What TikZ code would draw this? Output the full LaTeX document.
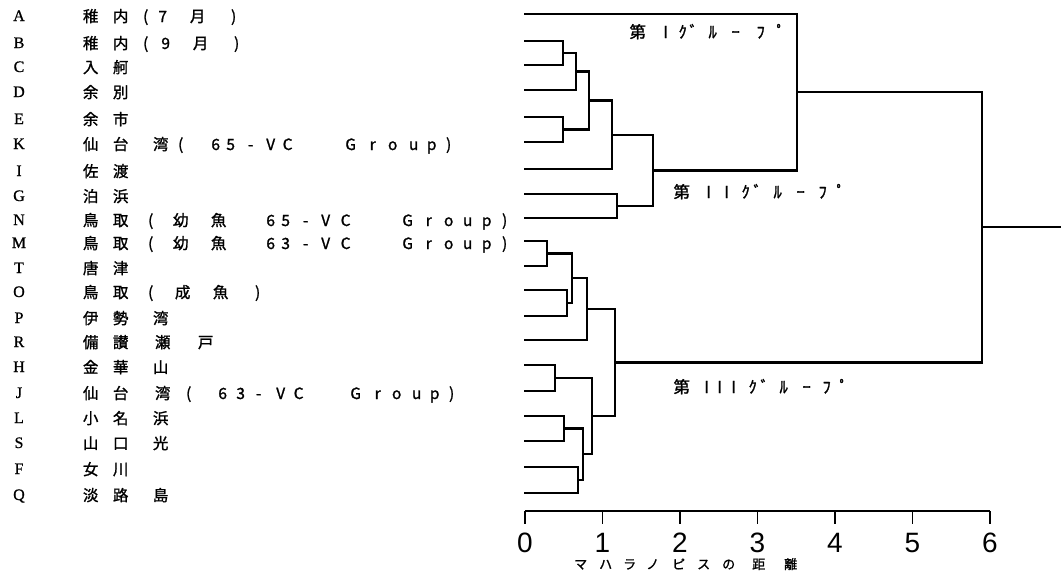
\documentclass[tikz,border=0pt]{standalone}
\usepackage{fontspec}
\newfontfamily\jp{Noto Sans CJK JP}[FakeBold=1.3]
\newfontfamily\latn{Liberation Serif}[FakeBold=0.8]
\newfontfamily\nums{Liberation Sans}
% place #2 centred at #1 pt from the start of the line, taking no width
\newcommand\ch[2]{\makebox[0pt][l]{\hspace*{#1pt}\makebox[0pt]{#2}}}
\tikzset{
  link/.style={line width=2.2pt},
  axisline/.style={line width=2pt},
  tickline/.style={line width=1.4pt},
  code/.style={anchor=base, inner sep=0pt, font=\latn\fontsize{16}{16}\selectfont},
  place/.style={anchor=base west, inner sep=0pt, font=\jp\fontsize{15.5}{15.5}\selectfont},
  grp/.style={anchor=base west, inner sep=0pt, font=\jp\fontsize{16.5}{16.5}\selectfont},
  num/.style={anchor=base, inner sep=0pt, font=\nums\fontsize{28}{28}\selectfont},
  axtitle/.style={anchor=base west, inner sep=0pt, font=\jp\fontsize{13}{13}\selectfont},
}
\begin{document}
\begin{tikzpicture}[x=1pt,y=-1pt]
\useasboundingbox (0,0) rectangle (1061,587);

% ---- station codes and names ----
\node[code] (kA) at (19,21) {A};
\node[place] (tA) at (90,22) {\ch{0}{稚}\ch{30}{内}\ch{55}{(}\ch{72}{7}\ch{107}{月}\ch{143}{)}};
\node[code] (kB) at (19,48) {B};
\node[place] (tB) at (90,49) {\ch{0}{稚}\ch{30}{内}\ch{55}{(}\ch{75}{9}\ch{110}{月}\ch{146}{)}};
\node[code] (kC) at (19,72) {C};
\node[place] (tC) at (90,73) {\ch{0}{入}\ch{30}{舸}};
\node[code] (kD) at (19,97) {D};
\node[place] (tD) at (90,98) {\ch{0}{余}\ch{30}{別}};
\node[code] (kE) at (19,124) {E};
\node[place] (tE) at (90,125) {\ch{0}{余}\ch{30}{市}};
\node[code] (kK) at (19,149) {K};
\node[place] (tK) at (90,150) {\ch{0}{仙}\ch{30}{台}\ch{70}{湾}\ch{90}{(}\ch{125}{6}\ch{140}{5}\ch{160}{-}\ch{180}{V}\ch{197}{C}\ch{260}{G}\ch{282}{r}\ch{302}{o}\ch{323}{u}\ch{341}{p}\ch{358}{)}};
\node[code] (kI) at (19,176) {I};
\node[place] (tI) at (90,177) {\ch{0}{佐}\ch{30}{渡}};
\node[code] (kG) at (19,201) {G};
\node[place] (tG) at (90,202) {\ch{0}{泊}\ch{30}{浜}};
\node[code] (kN) at (19,225) {N};
\node[place] (tN) at (90,226) {\ch{0}{鳥}\ch{30}{取}\ch{60}{(}\ch{90}{幼}\ch{128}{魚}\ch{180}{6}\ch{195}{5}\ch{215}{-}\ch{235}{V}\ch{255}{C}\ch{317}{G}\ch{338}{r}\ch{358}{o}\ch{377}{u}\ch{396}{p}\ch{414}{)}};
\node[code] (kM) at (19,248) {M};
\node[place] (tM) at (90,249) {\ch{0}{鳥}\ch{30}{取}\ch{60}{(}\ch{90}{幼}\ch{128}{魚}\ch{180}{6}\ch{195}{3}\ch{215}{-}\ch{235}{V}\ch{255}{C}\ch{317}{G}\ch{338}{r}\ch{358}{o}\ch{377}{u}\ch{396}{p}\ch{414}{)}};
\node[code] (kT) at (19,273) {T};
\node[place] (tT) at (90,274) {\ch{0}{唐}\ch{30}{津}};
\node[code] (kO) at (19,297) {O};
\node[place] (tO) at (90,298) {\ch{0}{鳥}\ch{30}{取}\ch{60}{(}\ch{92}{成}\ch{130}{魚}\ch{167}{)}};
\node[code] (kP) at (19,323) {P};
\node[place] (tP) at (90,324) {\ch{0}{伊}\ch{30}{勢}\ch{70}{湾}};
\node[code] (kR) at (19,347) {R};
\node[place] (tR) at (90,348) {\ch{0}{備}\ch{30}{讃}\ch{72}{瀬}\ch{115}{戸}};
\node[code] (kH) at (19,372) {H};
\node[place] (tH) at (90,373) {\ch{0}{金}\ch{30}{華}\ch{70}{山}};
\node[code] (kJ) at (19,398) {J};
\node[place] (tJ) at (90,399) {\ch{0}{仙}\ch{30}{台}\ch{72}{湾}\ch{98}{(}\ch{132}{6}\ch{150}{3}\ch{168}{-}\ch{190}{V}\ch{208}{C}\ch{265}{G}\ch{287}{r}\ch{306}{o}\ch{326}{u}\ch{344}{p}\ch{361}{)}};
\node[code] (kL) at (19,423) {L};
\node[place] (tL) at (90,424) {\ch{0}{小}\ch{30}{名}\ch{70}{浜}};
\node[code] (kS) at (19,448) {S};
\node[place] (tS) at (90,449) {\ch{0}{山}\ch{30}{口}\ch{70}{光}};
\node[code] (kF) at (19,474) {F};
\node[place] (tF) at (90,475) {\ch{0}{女}\ch{30}{川}};
\node[code] (kQ) at (19,500) {Q};
\node[place] (tQ) at (90,501) {\ch{0}{淡}\ch{30}{路}\ch{70}{島}};

% ---- leaves ----
\foreach \n/\y in {1/14,2/41,3/65,4/90,5/117,6/142,7/169,8/194,9/218,10/241,
                   11/266,12/290,13/316,14/340,15/365,16/391,17/416,18/441,19/467,20/493}
  \coordinate (l\n) at (524,\y);

% ---- merge points (distance, mid height) ----
\coordinate (m1) at (563,53);
\coordinate (m2) at (576,71.5);
\coordinate (m3) at (563,129.5);
\coordinate (m4) at (589,100.5);
\coordinate (m5) at (612,135);
\coordinate (m6) at (617,206);
\coordinate (m7) at (653,170.5);
\coordinate (m8) at (797,92);
\coordinate (n1) at (547,253.5);
\coordinate (n2) at (567,303);
\coordinate (n3) at (572,278);
\coordinate (n4) at (587,309);
\coordinate (n5) at (555,378);
\coordinate (n6) at (564,428.5);
\coordinate (n7) at (578,480);
\coordinate (n8) at (583,454);
\coordinate (n9) at (592,416);
\coordinate (n10) at (615,362.5);
\coordinate (root) at (982,227);
\coordinate (stub) at (1061,227);

% ---- dendrogram ----
\draw[link] (l2) -| (m1) |- (l3);
\draw[link] (m1) -| (m2) |- (l4);
\draw[link] (l5) -| (m3) |- (l6);
\draw[link] (m2) -| (m4) |- (m3);
\draw[link] (m4) -| (m5) |- (l7);
\draw[link] (l8) -| (m6) |- (l9);
\draw[link] (m5) -| (m7) |- (m6);
\draw[link] (l1) -| (m8) |- (m7);
\draw[link] (l10) -| (n1) |- (l11);
\draw[link] (l12) -| (n2) |- (l13);
\draw[link] (n1) -| (n3) |- (n2);
\draw[link] (n3) -| (n4) |- (l14);
\draw[link] (l15) -| (n5) |- (l16);
\draw[link] (l17) -| (n6) |- (l18);
\draw[link] (l19) -| (n7) |- (l20);
\draw[link] (n6) -| (n8) |- (n7);
\draw[link] (n5) -| (n9) |- (n8);
\draw[link] (n4) -| (n10) |- (n9);
\draw[link] (m8) -| (root) |- (n10);
\draw[link] (root) -- (stub);

% ---- group labels ----
\node[grp] (g1) at (637,38) {\ch{0}{第}\ch{28}{I}\ch{45}{ｸ}\ch{56}{ﾞ}\ch{75}{ﾙ}\ch{98}{ｰ}\ch{123}{ﾌ}\ch{143}{ﾟ}};
\node[grp] (g2) at (681,198) {\ch{0}{第}\ch{27}{I}\ch{45}{I}\ch{64}{ｸ}\ch{76}{ﾞ}\ch{96}{ﾙ}\ch{119}{ｰ}\ch{141}{ﾌ}\ch{159}{ﾟ}};
\node[grp] (g3) at (681,393) {\ch{0}{第}\ch{25}{I}\ch{38}{I}\ch{52}{I}\ch{71}{ｸ}\ch{83}{ﾞ}\ch{102}{ﾙ}\ch{125}{ｰ}\ch{145}{ﾌ}\ch{162}{ﾟ}};

% ---- distance axis ----
\coordinate (a0) at (525,511);
\coordinate (a6) at (990,511);
\draw[axisline] (a0) -- (a6);
\foreach \i in {0,...,6} {
  \coordinate (tk\i) at ({525+77.5*\i},511);
  \draw[tickline] (tk\i) -- ++(0,13);
  \node[num] (v\i) at ({525+77.5*\i},552) {\i};
}
\node[axtitle] (xt) at (580,569) {\ch{0}{マ}\ch{25}{ハ}\ch{49}{ラ}\ch{72}{ノ}\ch{98}{ピ}\ch{123}{ス}\ch{148}{の}\ch{178}{距}\ch{210}{離}};
\end{tikzpicture}
\end{document}
